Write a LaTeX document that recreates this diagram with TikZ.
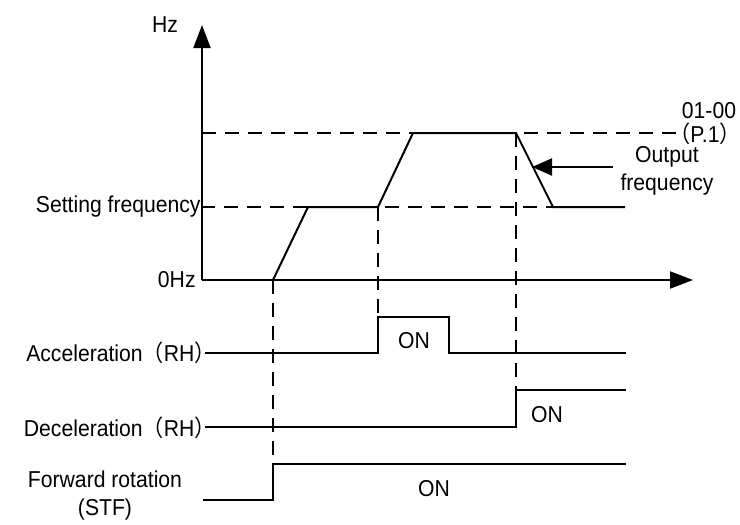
\documentclass[tikz,border=0pt]{standalone}
\usepackage{fontspec}
\setmainfont[FakeStretch=0.92]{Liberation Sans}
\newfontfamily\cjk[FakeStretch=0.92]{Noto Sans CJK SC}
\usetikzlibrary{arrows.meta,positioning}

\begin{document}
\begin{tikzpicture}[x=0.5pt,y=-0.5pt,
    font=\fontsize{11.5}{14}\selectfont,
    sig/.style={line width=1pt},
    guide/.style={line width=0.8pt,dash pattern=on 7pt off 4.5pt},
    lbl/.style={inner sep=0pt},
    >={Triangle[length=11.5pt,width=8.5pt]}]
  \useasboundingbox (0,0) rectangle (740,525);
  % axes
  \coordinate (O) at (202,280);
  \coordinate (Ytip) at (202,25);
  \coordinate (Xtip) at (693,280);
  \node[lbl] (hz) at (165,25) {Hz};
  \node[lbl,anchor=east] (zero) at (196,280) {0Hz};
  \node[lbl,anchor=east] (fset) at (201,207) {Setting frequency};
  % frequency curve
  \coordinate (a0) at (273,280);
  \coordinate (a1) at (308,207);
  \coordinate (a2) at (378,207);
  \coordinate (a3) at (413,133);
  \coordinate (a4) at (516,133);
  \coordinate (a5) at (553,207);
  \coordinate (a6) at (625,207);
  \coordinate (fmax) at (202,133);
  \coordinate (fmaxend) at (680,133);
  % guide lines
  \draw[guide] (fset.east) -- (a5);
  \draw[guide] (fmax) -- (fmaxend);
  \node[lbl] (pnum) at (709,111) {01-00};
  \node[lbl] (pname) at (705,134) {{\cjk （}P.1{\cjk ）}};
  \draw[sig] (a0) -- (a1) -- (a2) -- (a3) -- (a4) -- (a5) -- (a6);
  \draw[sig,->] (O) -- (Ytip);
  \draw[sig,->] (O) -- (Xtip);
  % output frequency pointer
  \node[lbl,align=center] (fout) at (667,171) {Output\\frequency};
  \coordinate (ptail) at (613,167);
  \coordinate (phead) at (532,167);
  \draw[sig,-{Triangle[length=10pt,width=8.5pt]}] (ptail) -- (phead);
  % signals
  \node[lbl,anchor=east] (acc) at (216,353) {Acceleration{\cjk （}RH{\cjk ）}};
  \node[lbl,anchor=east] (dec) at (216,428) {Deceleration{\cjk （}RH{\cjk ）}};
  \node[lbl,align=center] (stf) at (105,496) {Forward rotation\\(STF)};
  \draw[sig] (205,353) -- (378,353) -- (378,317) -- (449,317) -- (449,353) -- (626,353);
  \draw[sig] (205,427) -- (516,427) -- (516,390) -- (626,390);
  \draw[sig] (203,500) -- (273,500) -- (273,464) -- (626,464);
  \node[lbl] (onacc) at (414,341) {ON};
  \node[lbl] (ondec) at (547,415) {ON};
  \node[lbl] (onstf) at (434,489) {ON};
  % dashed markers
  \draw[guide] (a0) -- (273,464);
  \draw[guide] (a2) -- (378,317);
  \draw[guide] (a4) -- (516,390);
\end{tikzpicture}
\end{document}
